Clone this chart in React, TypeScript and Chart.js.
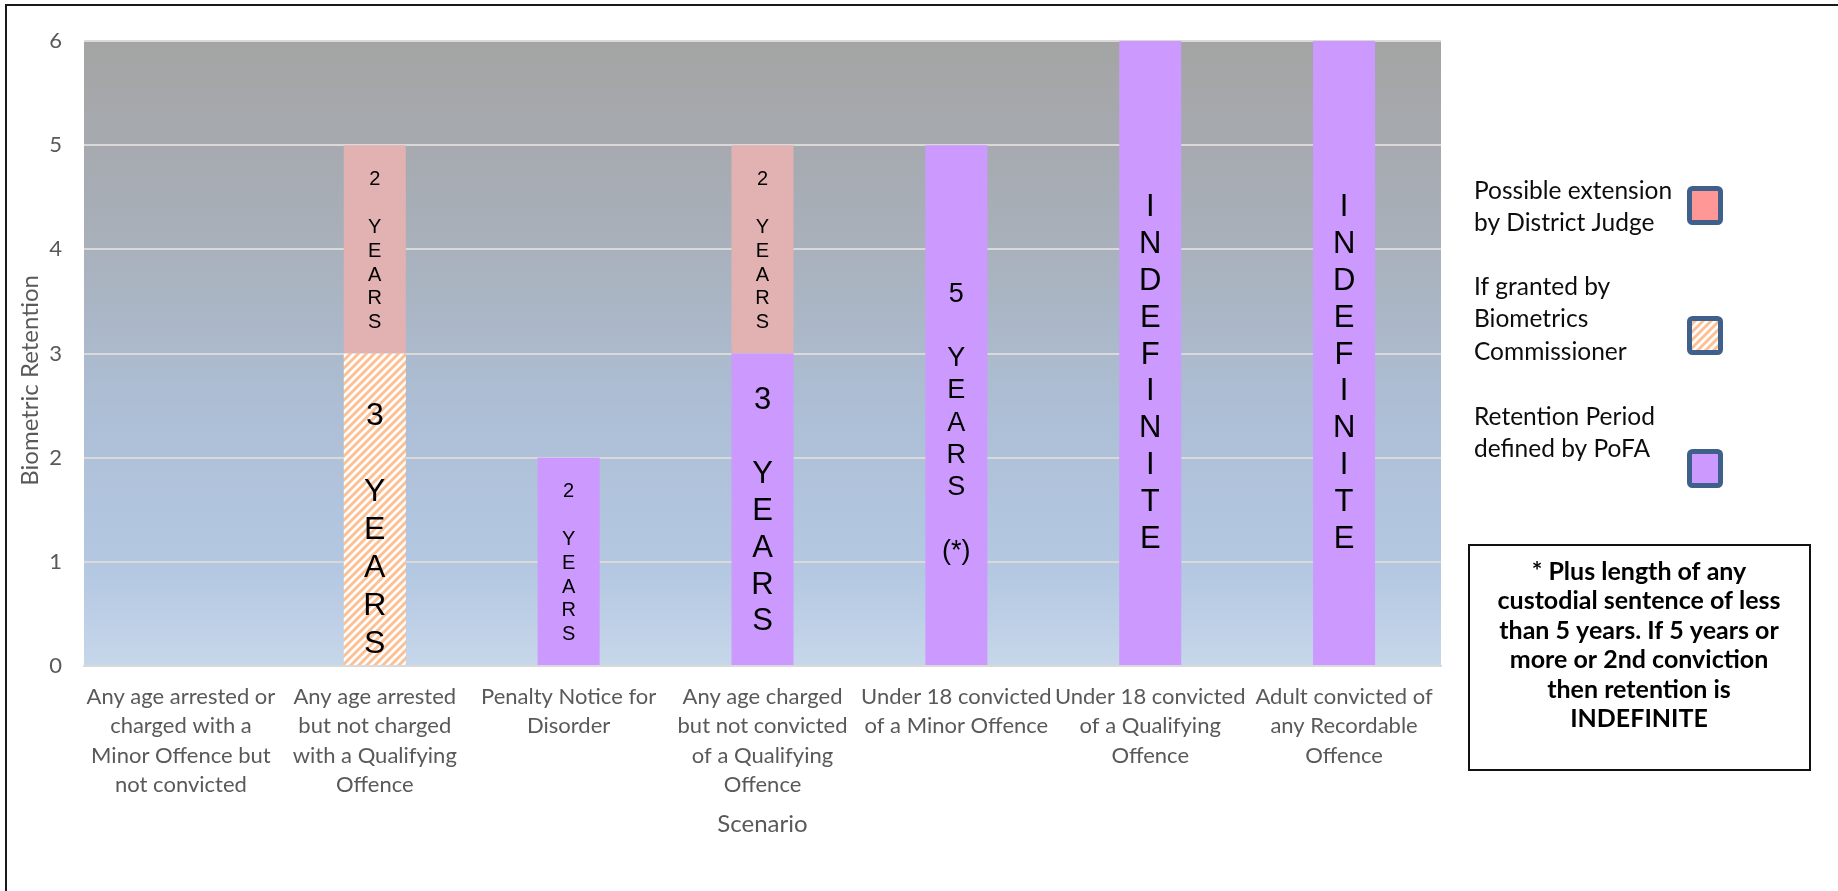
import React, { useEffect, useRef } from 'react';
import { Chart, registerables } from 'chart.js';

Chart.register(...registerables);

const categories: string[][] = [
  ['Any age arrested or', 'charged with a', 'Minor Offence but', 'not convicted'],
  ['Any age arrested', 'but not charged', 'with a Qualifying', 'Offence'],
  ['Penalty Notice for', 'Disorder'],
  ['Any age charged', 'but not convicted', 'of a Qualifying', 'Offence'],
  ['Under 18 convicted', 'of a Minor Offence'],
  ['Under 18 convicted', 'of a Qualifying', 'Offence'],
  ['Adult convicted of', 'any Recordable', 'Offence'],
];
const yTicks = [0, 1, 2, 3, 4, 5, 6];

const pofaValues = [null, null, 2, 3, 5, 6, 6];
const commissionerValues = [null, 3, null, null, null, null, null];
const judgeValues = [null, 2, null, 2, null, null, null];

const pofaLabels = [null, null, '2\n\nYEARS', '3\n\nYEARS', '\n5\n\nYEARS\n\n(*)', '\nINDEFINITE', '\nINDEFINITE'];
const commissionerLabels = [null, '\n3\n\nYEARS', null, null, null, null, null];
const judgeLabels = [null, '2\n\nYEARS', null, '2\n\nYEARS', null, null, null];

const seriesNames = [
  'Retention Period defined by PoFA',
  'If granted by Biometrics Commissioner',
  'Possible extension by District Judge',
];
const legendLines: string[][] = [
  ['Possible extension', 'by District Judge'],
  ['If granted by', 'Biometrics', 'Commissioner'],
  ['Retention Period', 'defined by PoFA'],
];
const noteLines = [
  '* Plus length of any',
  'custodial sentence of less',
  'than 5 years. If 5 years or',
  'more or 2nd conviction',
  'then retention is',
  'INDEFINITE',
];
const yTitle = 'Biometric Retention';
const xTitle = 'Scenario';

// styles (kept apart from the data)
const pofaLabelSizes = [0, 0, 20, 31, 27, 31, 31];
const commissionerLabelSizes = [0, 32, 0, 0, 0, 0, 0];
const judgeLabelSizes = [0, 20, 0, 20, 0, 0, 0];
const PURPLE = '#cc99ff';
const PINK_BAR = '#e2b2b2';
const PINK_LEGEND = '#ff9797';
const HATCH = '#fbc195';
const SANS = 'Lato, "Open Sans", sans-serif';
const ARIAL = '"Liberation Sans", Arial, sans-serif';

function makeHatch(): CanvasPattern | string {
  const c = document.createElement('canvas');
  c.width = 8;
  c.height = 8;
  const g = c.getContext('2d');
  if (!g) return HATCH;
  g.fillStyle = '#ffffff';
  g.fillRect(0, 0, 8, 8);
  g.strokeStyle = HATCH;
  g.lineWidth = 3;
  g.beginPath();
  g.moveTo(-2, 10); g.lineTo(10, -2);
  g.moveTo(-2, 2); g.lineTo(2, -2);
  g.moveTo(6, 10); g.lineTo(10, 6);
  g.stroke();
  const p = g.createPattern(c, 'repeat');
  return p || HATCH;
}

function verticalLines(s: string): string[] {
  return s.split('\n').flatMap((line) => (/^[A-Z]{2,}$/.test(line) ? line.split('') : [line]));
}

export default function App() {
  const ref = useRef<HTMLCanvasElement | null>(null);

  useEffect(() => {
    document.body.style.margin = '0';
    const canvas = ref.current;
    if (!canvas) return;
    const hatch = makeHatch();

    const labelSets = [
      { labels: pofaLabels, sizes: pofaLabelSizes },
      { labels: commissionerLabels, sizes: commissionerLabelSizes },
      { labels: judgeLabels, sizes: judgeLabelSizes },
    ];

    const backgroundPlugin = {
      id: 'bg',
      beforeDraw(chart: any) {
        const { ctx, chartArea: a } = chart;
        ctx.save();
        ctx.fillStyle = '#ffffff';
        ctx.fillRect(0, 0, chart.width, chart.height);
        const grad = ctx.createLinearGradient(0, a.top, 0, a.bottom);
        grad.addColorStop(0, '#a4a4a4');
        grad.addColorStop(0.3, '#a8afb9');
        grad.addColorStop(0.6, '#adbfd6');
        grad.addColorStop(0.85, '#b4c8e2');
        grad.addColorStop(1, '#c7d7ea');
        ctx.fillStyle = grad;
        ctx.fillRect(a.left, a.top, a.right - a.left, a.bottom - a.top);
        ctx.restore();
      },
    };

    const barLabelPlugin = {
      id: 'barLabels',
      afterDatasetsDraw(chart: any) {
        const { ctx } = chart;
        ctx.save();
        ctx.fillStyle = '#000000';
        ctx.textAlign = 'center';
        ctx.textBaseline = 'middle';
        labelSets.forEach((set, di) => {
          const meta = chart.getDatasetMeta(di);
          set.labels.forEach((lab, i) => {
            if (!lab) return;
            const el = meta.data[i];
            if (!el) return;
            const size = set.sizes[i];
            const lh = size * 1.19;
            const lines = verticalLines(lab);
            const cy = (el.y + el.base) / 2 + 2;
            const y0 = cy - ((lines.length - 1) / 2) * lh;
            ctx.font = `${size}px ${ARIAL}`;
            lines.forEach((ln, k) => {
              if (ln) ctx.fillText(ln, el.x, y0 + k * lh);
            });
          });
        });
        ctx.restore();
      },
    };

    const decorPlugin = {
      id: 'decor',
      afterDraw(chart: any) {
        const { ctx, chartArea: a } = chart;
        ctx.save();
        // outer frame
        ctx.fillStyle = '#1a1a1a';
        ctx.fillRect(5, 4, chart.width, 2);
        ctx.fillRect(5, 4, 2, chart.height);

        // axis titles
        ctx.fillStyle = '#595959';
        ctx.font = `24px ${SANS}`;
        ctx.textAlign = 'center';
        ctx.textBaseline = 'middle';
        ctx.fillText(xTitle, (a.left + a.right) / 2, 824);
        ctx.save();
        ctx.translate(30, a.top + (a.bottom - a.top) * 0.543);
        ctx.rotate(-Math.PI / 2);
        ctx.fillText(yTitle, 0, 0);
        ctx.restore();

        // legend
        const swatches = [
          { x: 1687, y: 186, fill: PINK_LEGEND },
          { x: 1687, y: 316, fill: hatch },
          { x: 1687, y: 449, fill: PURPLE },
        ];
        const textTops = [191, 287, 417];
        ctx.textAlign = 'left';
        ctx.fillStyle = '#0d0d0d';
        ctx.font = `24.5px ${SANS}`;
        legendLines.forEach((lines, i) => {
          lines.forEach((ln, k) => ctx.fillText(ln, 1474, textTops[i] + k * 32.5));
        });
        swatches.forEach((s) => {
          ctx.beginPath();
          ctx.roundRect(s.x + 2.5, s.y + 2.5, 31, 34, 3);
          ctx.fillStyle = s.fill;
          ctx.fill();
          ctx.lineWidth = 5;
          ctx.strokeStyle = '#40608c';
          ctx.stroke();
        });

        // note box
        ctx.lineWidth = 2;
        ctx.strokeStyle = '#111111';
        ctx.strokeRect(1469, 545, 341, 225);
        ctx.fillStyle = '#000000';
        ctx.textAlign = 'center';
        ctx.font = `bold 25px ${SANS}`;
        noteLines.forEach((ln, k) => ctx.fillText(ln, 1639, 572 + k * 29.4));
        ctx.restore();
      },
    };

    const chart = new Chart(canvas, {
      type: 'bar',
      data: {
        labels: categories as any,
        datasets: [
          { label: seriesNames[0], data: pofaValues as any, backgroundColor: PURPLE, borderWidth: 0 },
          { label: seriesNames[1], data: commissionerValues as any, backgroundColor: hatch as any, borderWidth: 0 },
          { label: seriesNames[2], data: judgeValues as any, backgroundColor: PINK_BAR, borderWidth: 0 },
        ],
      },
      options: {
        responsive: false,
        animation: false,
        devicePixelRatio: 1,
        layout: { padding: { left: 0, top: 41, right: 1838 - 1441, bottom: 0 } },
        datasets: { bar: { categoryPercentage: 1, barPercentage: 0.32 } },
        plugins: { legend: { display: false }, tooltip: { enabled: false }, title: { display: false } },
        scales: {
          x: {
            stacked: true,
            grid: { display: false, drawTicks: false },
            border: { display: true, color: '#d9d9d9', width: 2 },
            ticks: {
              color: '#595959',
              font: { family: SANS, size: 22, lineHeight: 1.34 },
              padding: 16,
              maxRotation: 0,
              autoSkip: false,
            },
            afterFit: (s: any) => { s.height = 891 - 666; },
          },
          y: {
            stacked: true,
            min: 0,
            max: 6,
            afterBuildTicks: (s: any) => { s.ticks = yTicks.map((v) => ({ value: v })); },
            grid: { color: '#d9d9d9', lineWidth: 2, drawTicks: false },
            border: { display: false },
            ticks: { color: '#595959', font: { family: SANS, size: 22 }, padding: 22 },
            afterFit: (s: any) => { s.width = 84; },
          },
        },
      },
      plugins: [backgroundPlugin, barLabelPlugin, decorPlugin],
    });

    return () => chart.destroy();
  }, []);

  return (
    <div style={{ width: 1838, height: 891, position: 'relative' }}>
      <canvas ref={ref} width={1838} height={891} style={{ display: 'block' }} />
    </div>
  );
}
